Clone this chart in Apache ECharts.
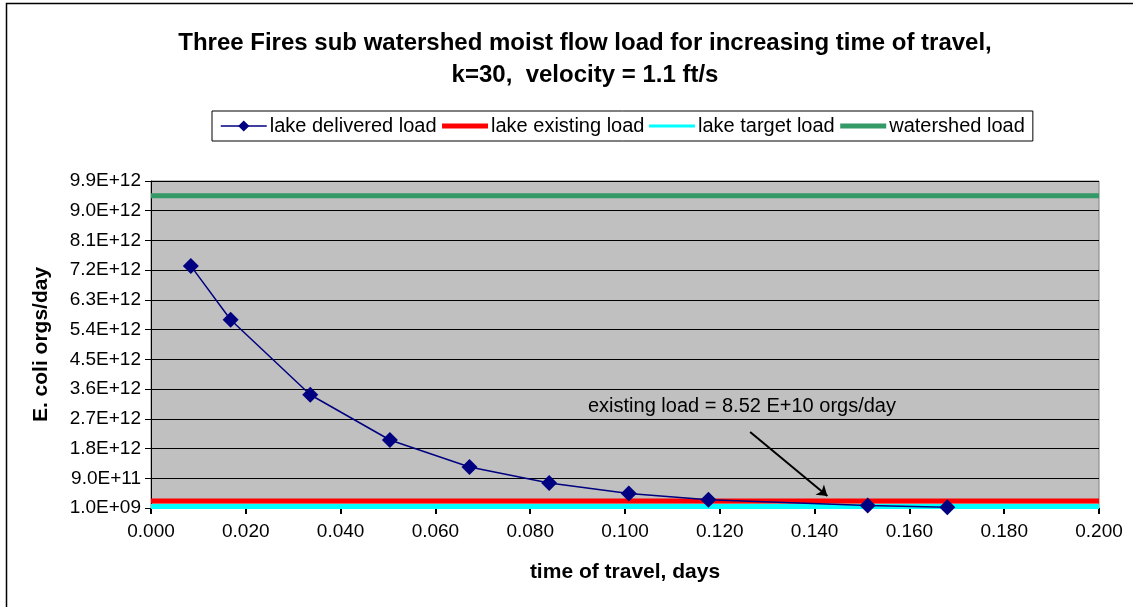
<!DOCTYPE html>
<html>
<head>
<meta charset="utf-8">
<script src="https://cdn.jsdelivr.net/npm/echarts@6/dist/echarts.min.js"></script>
<style>
  html, body { margin: 0; padding: 0; background: #fff; }
  #main { width: 1133px; height: 607px; }
</style>
</head>
<body>
<div id="main"></div>
<script>
const chart = echarts.init(document.getElementById('main'));

// time of travel, days
const travelDays = [0.0084, 0.0168, 0.0336, 0.0504, 0.0672, 0.084, 0.1008, 0.1176, 0.1512, 0.168];
// lake delivered load, orgs/day
const deliveredLoad = [7.33e12, 5.70e12, 3.43e12, 2.06e12, 1.24e12, 7.6e11, 4.4e11, 2.5e11, 7.5e10, 2.0e10];
// flat reference loads
const existingLoad = 2.1e11;
const targetLoad = 5.0e10;
const watershedLoad = 9.45e12;
const xRange = [0, 0.2];

// annotation arrow end points [days, orgs/day]
const arrowFrom = [0.1264, 2.30e12];
const arrowTo = [0.1427, 3.64e11];

const font = 'Arial, "Liberation Sans", sans-serif';

function sci(v) {
  const s = v.toExponential(1).toUpperCase();
  const m = s.match(/^([\d.]+)E([+-])(\d+)$/);
  return m[1] + 'E' + m[2] + m[3].padStart(2, '0');
}

function flat(v) {
  return xRange.map(x => [x, v]);
}

// plain thick line in the legend, no marker
function plainItem(name, width) {
  return { name: name, itemStyle: { opacity: 0 }, lineStyle: { width: width } };
}

const option = {
  backgroundColor: '#fff',
  animation: false,
  textStyle: { fontFamily: font },
  title: {
    text: 'Three Fires sub watershed moist flow load for increasing time of travel,\nk=30,  velocity = 1.1 ft/s',
    left: 580,
    top: 22,
    textAlign: 'center',
    textStyle: { fontSize: 24, fontWeight: 'bold', color: '#000', lineHeight: 32, fontFamily: font }
  },
  legend: {
    left: 212,
    top: 111,
    padding: [5, 8, 5, 8],
    itemGap: 3,
    itemWidth: 46,
    itemHeight: 14,
    borderColor: '#000',
    borderWidth: 1,
    textStyle: { fontSize: 20, color: '#000', padding: [0, 0, 0, -2] },
    data: [
      { name: 'lake delivered load', lineStyle: { width: 1.5 } },
      plainItem('lake existing load', 5),
      plainItem('lake target load', 3),
      plainItem('watershed load', 5)
    ]
  },
  grid: {
    left: 151,
    right: 34,
    top: 181,
    bottom: 99,
    show: true,
    backgroundColor: '#c0c0c0',
    borderColor: '#808080',
    borderWidth: 1
  },
  xAxis: {
    type: 'value',
    min: 0,
    max: 0.2,
    interval: 0.02,
    name: 'time of travel, days',
    nameLocation: 'middle',
    nameGap: 54,
    nameTextStyle: { fontSize: 21, fontWeight: 'bold', color: '#000' },
    axisLine: { onZero: false, lineStyle: { color: '#000', width: 1 } },
    axisTick: { inside: false, length: 6, lineStyle: { color: '#000', width: 2 } },
    axisLabel: { fontSize: 19, color: '#000', margin: 14, formatter: v => v.toFixed(3) },
    splitLine: { show: false }
  },
  yAxis: {
    type: 'value',
    min: 1e9,
    max: 9.9e12,
    interval: 9e11,
    name: 'E. coli orgs/day',
    nameLocation: 'middle',
    nameGap: 99,
    nameTextStyle: { fontSize: 21, fontWeight: 'bold', color: '#000' },
    axisLine: { show: true, lineStyle: { color: '#000', width: 1 } },
    axisTick: { show: true, inside: false, length: 6, lineStyle: { color: '#000' } },
    axisLabel: { fontSize: 19, color: '#000', margin: 10, formatter: v => sci(v) },
    splitLine: { show: true, lineStyle: { color: '#000', width: 1 } }
  },
  graphic: [
    {
      type: 'rect',
      shape: { x: 6.5, y: 3.5, width: 1140, height: 620 },
      style: { fill: 'none', stroke: '#000', lineWidth: 1.5 },
      silent: true
    },
    {
      type: 'text',
      left: 588,
      top: 396,
      style: { text: 'existing load = 8.52 E+10 orgs/day', fontSize: 20, fontFamily: font, fill: '#000' },
      silent: true
    }
  ],
  series: [
    {
      name: 'lake target load',
      type: 'line',
      data: flat(targetLoad),
      symbol: 'none',
      lineStyle: { color: '#00ffff', width: 5 },
      itemStyle: { color: '#00ffff' },
      z: 2
    },
    {
      name: 'lake existing load',
      type: 'line',
      data: flat(existingLoad),
      symbol: 'none',
      lineStyle: { color: '#ff0000', width: 5 },
      itemStyle: { color: '#ff0000' },
      z: 3
    },
    {
      name: 'watershed load',
      type: 'line',
      data: flat(watershedLoad),
      symbol: 'none',
      lineStyle: { color: '#339966', width: 5 },
      itemStyle: { color: '#339966' },
      z: 3
    },
    {
      name: 'lake delivered load',
      type: 'line',
      data: travelDays.map((d, i) => [d, deliveredLoad[i]]),
      symbol: 'diamond',
      symbolSize: 16,
      lineStyle: { color: '#000080', width: 1.5 },
      itemStyle: { color: '#000080' },
      z: 5,
      markLine: {
        silent: true,
        symbol: ['none', 'arrow'],
        symbolSize: 10,
        label: { show: false },
        lineStyle: { color: '#000', width: 2, type: 'solid' },
        data: [[{ coord: arrowFrom }, { coord: arrowTo }]]
      }
    }
  ]
};

chart.setOption(option);
</script>
</body>
</html>
